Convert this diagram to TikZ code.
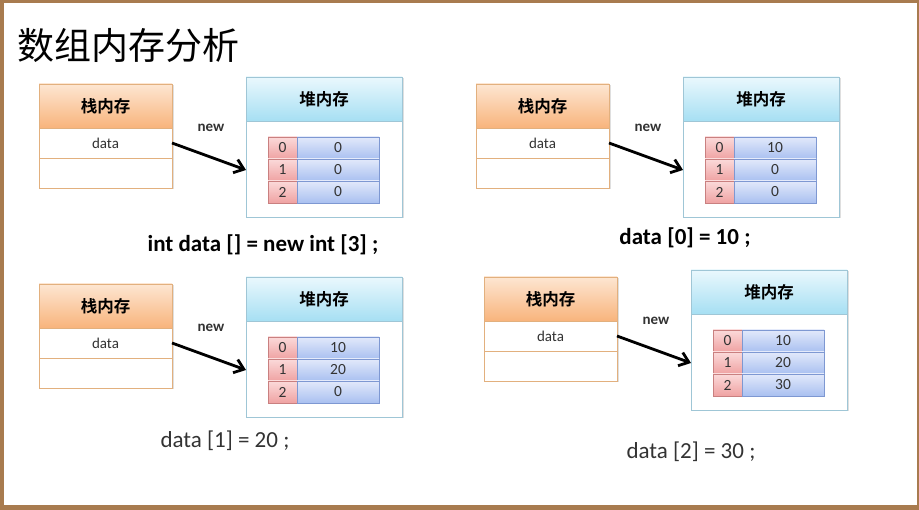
\documentclass[tikz,border=0pt]{standalone}
\usepackage{fontspec}
\setmainfont{Carlito}
\newfontfamily\cjk{Noto Sans CJK SC}[BoldFont={Noto Sans CJK SC Bold}]
\usepackage{tikz}
\usetikzlibrary{positioning,shadows,arrows.meta}

\definecolor{framebrown}{HTML}{A87B4F}
\definecolor{stackline}{HTML}{E2B07E}
\definecolor{stacktop}{HTML}{FDE6D2}
\definecolor{stackbot}{HTML}{F8B47C}
\definecolor{heapline}{HTML}{9FC6D6}
\definecolor{heaptop}{HTML}{EAF8FD}
\definecolor{heapbot}{HTML}{A6DFF3}
\definecolor{idxtop}{HTML}{FBDADA}
\definecolor{idxbot}{HTML}{EFA2A2}
\definecolor{idxline}{HTML}{C98080}
\definecolor{valtop}{HTML}{E2E9FB}
\definecolor{valbot}{HTML}{A9C0F0}
\definecolor{valline}{HTML}{7E98D2}
\definecolor{textgrey}{HTML}{333333}

\tikzset{
  cell/.style={rectangle, outer sep=0pt, inner sep=0pt, text=textgrey},
  stackhead/.style={cell, draw=stackline, top color=stacktop, bottom color=stackbot,
    minimum width=133pt, minimum height=44pt, anchor=north west,
    font=\cjk\bfseries\fontsize{16.5}{18}\selectfont, text=black,
    drop shadow={shadow xshift=1.5pt, shadow yshift=-1.5pt, opacity=.25}},
  stackrow/.style={cell, draw=stackline, fill=white, minimum width=133pt, minimum height=30pt,
    font=\fontsize{15}{17}\selectfont,
    drop shadow={shadow xshift=1.5pt, shadow yshift=-1.5pt, opacity=.25}},
  heapbox/.style={cell, draw=heapline, fill=white, minimum width=156pt, minimum height=140pt,
    anchor=north west, drop shadow={shadow xshift=1.5pt, shadow yshift=-1.5pt, opacity=.25}},
  heaphead/.style={cell, draw=heapline, top color=heaptop, bottom color=heapbot,
    minimum width=156pt, minimum height=44pt, anchor=north west,
    font=\cjk\bfseries\fontsize{16.5}{18}\selectfont, text=black},
  idxcell/.style={cell, draw=idxline, top color=idxtop, bottom color=idxbot,
    minimum width=29pt, minimum height=22pt, font=\fontsize{15.5}{17}\selectfont},
  valcell/.style={cell, draw=valline, top color=valtop, bottom color=valbot,
    minimum width=82pt, minimum height=22pt, font=\fontsize{15.5}{17}\selectfont},
  newlabel/.style={font=\bfseries\fontsize{15}{17}\selectfont, text=textgrey},
  refarrow/.style={-{Straight Barb[length=9pt,width=14pt]}, line width=2.8pt},
  codebold/.style={font=\bfseries\fontsize{23}{26}\selectfont},
  code/.style={font=\fontsize{23}{26}\selectfont, text=textgrey}
}

% one stack/heap pair: id, origin, three values
\newcommand{\mempanel}[5]{%
  \begin{scope}[shift={#2}]
    \node[stackhead] (s#1h) at (0,0) {栈内存};
    \node[stackrow, below=0pt of s#1h] (s#1d) {data};
    \node[stackrow, below=0pt of s#1d] (s#1e) {};
    \node[heapbox] (h#1) at (207,-7) {};
    \node[heaphead] (h#1h) at (h#1.north west) {堆内存};
    \node[idxcell, anchor=north west] (c#1i0) at (229,53) {0};
    \node[idxcell, below=0pt of c#1i0] (c#1i1) {1};
    \node[idxcell, below=0pt of c#1i1] (c#1i2) {2};
    \node[valcell, right=0pt of c#1i0] (c#1v0) {#3};
    \node[valcell, right=0pt of c#1i1] (c#1v1) {#4};
    \node[valcell, right=0pt of c#1i2] (c#1v2) {#5};
    \node[newlabel] (n#1) at (172,44) {new};
    \draw[refarrow] (s#1d.east) -- (c#1i1 -| h#1.west);
  \end{scope}}

\begin{document}
\begin{tikzpicture}[x=1pt, y=-1pt]
  \useasboundingbox (0,0) rectangle (919,510);
  \fill[framebrown] (0,0) rectangle (919,510);
  \fill[white] (4,3) rectangle (917,505);

  \node[anchor=west, font=\cjk\fontsize{37}{40}\selectfont, inner sep=0pt] (title) at (17,45) {数组内存分析};

  \mempanel{1}{(39,84)}{0}{0}{0}
  \mempanel{2}{(476,84)}{10}{0}{0}
  \mempanel{3}{(39,284)}{10}{20}{0}
  \mempanel{4}{(484,277)}{10}{20}{30}

  \node[codebold] (code1) at (263,245) {int data [] = new int [3] ;};
  \node[codebold] (code2) at (685,238) {data [0] = 10 ;};
  \node[code] (code3) at (225,441) {data [1] = 20 ;};
  \node[code] (code4) at (691,452) {data [2] = 30 ;};
\end{tikzpicture}
\end{document}
